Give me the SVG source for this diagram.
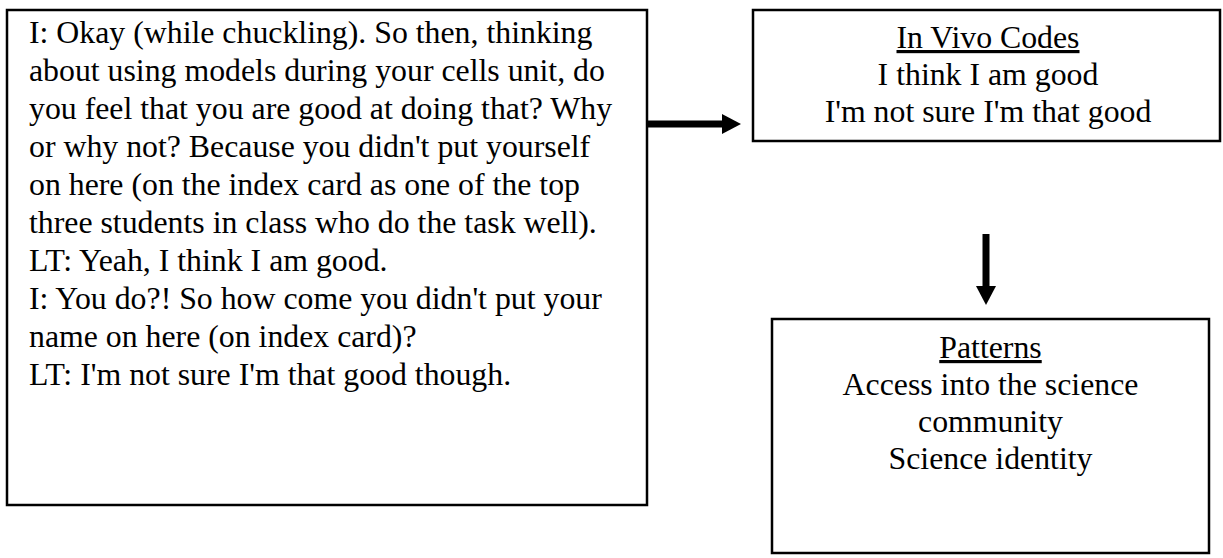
<svg xmlns="http://www.w3.org/2000/svg" width="1223" height="558" viewBox="0 0 1223 558">
  <style>
    .box { fill: #ffffff; stroke: #000000; stroke-width: 2.5; }
    .txt { font-family: "Liberation Serif", "Times New Roman", serif; font-size: 31.8px; fill: #000000; }
    .mid { text-anchor: middle; }
    .link { stroke: #000000; stroke-width: 7; fill: none; }
  </style>
  <defs>
    <marker id="head" markerUnits="userSpaceOnUse" markerWidth="20" markerHeight="20" refX="0" refY="10" orient="auto">
      <path d="M0,0 L19,10 L0,20 Z" fill="#000000"/>
    </marker>
  </defs>
  <rect width="1223" height="558" fill="#ffffff"/>

  <g id="transcript">
    <rect class="box" x="7" y="10" width="640" height="495"/>
    <text class="txt">
      <tspan x="29" y="43">I: Okay (while chuckling). So then, thinking</tspan>
      <tspan x="29" y="81">about using models during your cells unit, do</tspan>
      <tspan x="29" y="119">you feel that you are good at doing that? Why</tspan>
      <tspan x="29" y="157">or why not? Because you didn't put yourself</tspan>
      <tspan x="29" y="195">on here (on the index card as one of the top</tspan>
      <tspan x="29" y="233">three students in class who do the task well).</tspan>
      <tspan x="29" y="271">LT: Yeah, I think I am good.</tspan>
      <tspan x="29" y="309">I: You do?! So how come you didn't put your</tspan>
      <tspan x="29" y="347">name on here (on index card)?</tspan>
      <tspan x="29" y="385">LT: I'm not sure I'm that good though.</tspan>
    </text>
  </g>

  <g id="in-vivo-codes">
    <rect class="box" x="753" y="10" width="467" height="131"/>
    <text class="txt mid" x="988" y="48" text-decoration="underline">In Vivo Codes</text>
    <text class="txt mid" x="988" y="85">I think I am good</text>
    <text class="txt mid" x="988" y="122">I'm not sure I'm that good</text>
  </g>

  <g id="patterns">
    <rect class="box" x="772" y="319" width="437" height="234"/>
    <text class="txt mid" x="990.5" y="358" text-decoration="underline">Patterns</text>
    <text class="txt mid" x="990.5" y="395">Access into the science</text>
    <text class="txt mid" x="990.5" y="432">community</text>
    <text class="txt mid" x="990.5" y="469">Science identity</text>
  </g>

  <g id="connectors">
    <line class="link" x1="647" y1="124" x2="722" y2="124" marker-end="url(#head)"/>
    <line class="link" x1="986" y1="234" x2="986" y2="286" marker-end="url(#head)"/>
  </g>
</svg>
